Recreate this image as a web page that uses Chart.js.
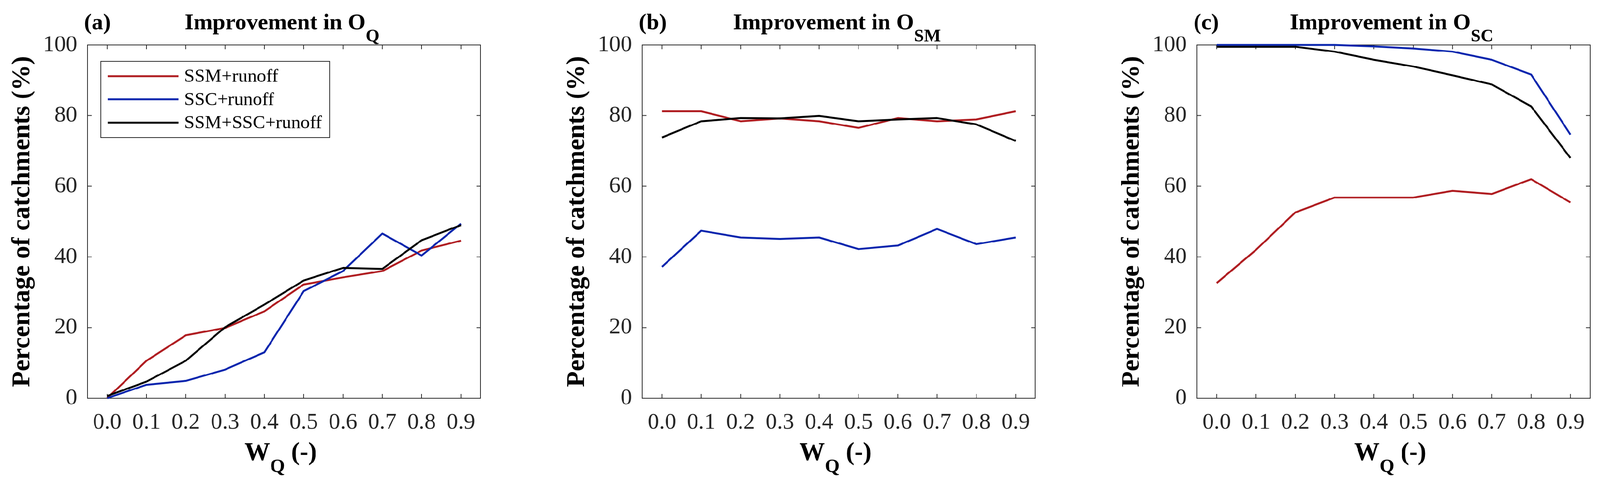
<!DOCTYPE html>
<html>
<head>
<meta charset="utf-8">
<title>Improvement in objectives</title>
<script src="https://cdn.jsdelivr.net/npm/chart.js@4.4.1/dist/chart.umd.min.js"></script>
<style>
  html, body { margin: 0; padding: 0; background: #fff; overflow: hidden; }
  #wrap { position: relative; width: 4205px; height: 1287px; overflow: hidden; transform-origin: 0 0; }
  #wrap canvas { position: absolute; top: 0; }
</style>
</head>
<body>
<div id="wrap">
  <canvas id="pa" width="1458" height="1287" style="left:0px;width:1458px;height:1287px"></canvas>
  <canvas id="pb" width="1458" height="1287" style="left:1458px;width:1458px;height:1287px"></canvas>
  <canvas id="pc" width="1289" height="1287" style="left:2916px;width:1289px;height:1287px"></canvas>
</div>
<script>
// x values (W_Q)
var wq = [0.0, 0.1, 0.2, 0.3, 0.4, 0.5, 0.6, 0.7, 0.8, 0.9];
var yTicks = [0, 20, 40, 60, 80, 100];

var seriesNames = ["SSM+runoff", "SSC+runoff", "SSM+SSC+runoff"];
var seriesColors = ["#B01E22", "#0A26AE", "#000000"];

// (a) improvement in O_Q
var ssmQ  = [0.0, 10.6, 17.8, 19.9, 24.6, 32.2, 34.2, 36.0, 41.8, 44.6];
var sscQ  = [0.0, 3.8, 4.9, 8.1, 13.0, 30.3, 36.0, 46.6, 40.4, 49.4];
var bothQ = [0.6, 4.7, 10.6, 20.1, 26.5, 33.3, 36.9, 36.6, 44.7, 49.0];

// (b) improvement in O_SM
var ssmSM  = [81.2, 81.2, 78.4, 79.2, 78.4, 76.5, 79.3, 78.4, 78.9, 81.2];
var sscSM  = [37.2, 47.4, 45.5, 45.1, 45.5, 42.2, 43.2, 47.9, 43.6, 45.5];
var bothSM = [73.8, 78.4, 79.3, 79.2, 79.9, 78.4, 78.9, 79.3, 77.5, 72.8];

// (c) improvement in O_SC
var ssmSC  = [32.6, 42.0, 52.6, 56.8, 56.8, 56.8, 58.7, 57.8, 62.0, 55.4];
var sscSC  = [100.0, 100.0, 100.0, 100.0, 99.6, 99.0, 98.1, 95.8, 91.6, 74.6];
var bothSC = [99.5, 99.5, 99.5, 98.1, 95.8, 93.9, 91.4, 88.8, 82.6, 68.0];

var FONT = "'Liberation Serif', 'Times New Roman', serif";
var AXIS = "#262626";

// fit the 4205x1287 layout into whatever the viewport really is
var fit = Math.min(window.innerWidth / 4205, window.innerHeight / 1287);
if (fit > 0 && Math.abs(fit - 1) > 0.001) {
  document.getElementById("wrap").style.transform = "scale(" + fit + ")";
}

function pts(vals) {
  return wq.map(function (x, i) { return { x: x, y: vals[i] }; });
}

// text with a lowered, smaller subscript part, centred on cx
function subText(ctx, parts, cx, baseline) {
  var total = 0;
  parts.forEach(function (p) {
    ctx.font = "bold " + p.size + "px " + FONT;
    p.w = ctx.measureText(p.t).width;
    total += p.w;
  });
  var x = cx - total / 2;
  ctx.textAlign = "left";
  ctx.textBaseline = "alphabetic";
  parts.forEach(function (p) {
    ctx.font = "bold " + p.size + "px " + FONT;
    ctx.fillText(p.t, x, baseline + (p.dy || 0));
    x += p.w;
  });
}

function makeChart(id, tag, sub, vals, showLegend) {
  // box round the axes with inward ticks on all four sides
  var frame = {
    id: "frame",
    beforeDatasetsDraw: function (chart) {
      var ctx = chart.ctx, ca = chart.chartArea;
      var xs = chart.scales.x, ys = chart.scales.y;
      var tl = 11;
      ctx.save();
      ctx.strokeStyle = AXIS;
      ctx.lineWidth = 2;
      ctx.strokeRect(ca.left, ca.top, ca.right - ca.left, ca.bottom - ca.top);
      ctx.beginPath();
      xs.ticks.forEach(function (t) {
        var px = xs.getPixelForValue(t.value);
        ctx.moveTo(px, ca.bottom); ctx.lineTo(px, ca.bottom - tl);
        ctx.moveTo(px, ca.top); ctx.lineTo(px, ca.top + tl);
      });
      ys.ticks.forEach(function (t) {
        var py = ys.getPixelForValue(t.value);
        ctx.moveTo(ca.left, py); ctx.lineTo(ca.left + tl, py);
        ctx.moveTo(ca.right, py); ctx.lineTo(ca.right - tl, py);
      });
      ctx.stroke();
      ctx.restore();
    }
  };

  var texts = {
    id: "texts",
    afterDraw: function (chart) {
      var ctx = chart.ctx, ca = chart.chartArea;
      var cx = (ca.left + ca.right) / 2;
      ctx.save();
      ctx.fillStyle = "#000";
      // panel tag
      ctx.font = "bold 60px " + FONT;
      ctx.textAlign = "left";
      ctx.textBaseline = "alphabetic";
      ctx.fillText(tag, ca.left - 9, ca.top - 41);
      // title
      subText(ctx, [
        { t: "Improvement in O", size: 60 },
        { t: sub, size: 47, dy: 32 }
      ], cx - 5, ca.top - 41);
      // x axis title
      subText(ctx, [
        { t: "W", size: 67 },
        { t: "Q", size: 50, dy: 32 },
        { t: " (-)", size: 67 }
      ], cx - 9, ca.bottom + 162);

      if (showLegend) {
        var bx = ca.left + 35, by = ca.top + 43, bw = 601, bh = 200;
        ctx.fillStyle = "#fff";
        ctx.fillRect(bx, by, bw, bh);
        ctx.strokeStyle = AXIS;
        ctx.lineWidth = 2;
        ctx.strokeRect(bx, by, bw, bh);
        ctx.font = "49px " + FONT;
        ctx.textBaseline = "middle";
        chart.data.datasets.forEach(function (ds, i) {
          var ry = by + 39 + i * 61;
          ctx.strokeStyle = ds.borderColor;
          ctx.lineWidth = 5;
          ctx.beginPath();
          ctx.moveTo(bx + 18, ry);
          ctx.lineTo(bx + 204, ry);
          ctx.stroke();
          ctx.fillStyle = "#000";
          ctx.fillText(ds.label, bx + 219, ry + 2);
        });
      }
      ctx.restore();
    }
  };

  var canvas = document.getElementById(id);
  var rightPad = canvas.width - 1263;

  return new Chart(canvas, {
    type: "line",
    data: {
      datasets: vals.map(function (v, i) {
        return {
          label: seriesNames[i],
          data: pts(v),
          borderColor: seriesColors[i],
          backgroundColor: seriesColors[i],
          borderWidth: 5,
          pointRadius: 0,
          tension: 0,
          fill: false,
          clip: false,
          borderJoinStyle: "round",
          order: 2 - i
        };
      })
    },
    options: {
      responsive: false,
      devicePixelRatio: 1,
      animation: false,
      events: [],
      layout: { padding: { left: 0, right: rightPad, top: 118, bottom: 0 } },
      plugins: {
        legend: { display: false },
        tooltip: { enabled: false },
        title: { display: false }
      },
      scales: {
        x: {
          type: "linear",
          min: -0.05,
          max: 0.95,
          afterBuildTicks: function (s) {
            s.ticks = wq.map(function (v) { return { value: v }; });
          },
          afterFit: function (s) { s.height = 241; },
          ticks: {
            color: AXIS,
            padding: 28,
            maxRotation: 0,
            autoSkip: false,
            font: { family: FONT, size: 60 },
            callback: function (v) { return Number(v).toFixed(1); }
          },
          grid: { display: false, drawTicks: false },
          border: { display: false },
          title: { display: false }
        },
        y: {
          min: 0,
          max: 100,
          afterBuildTicks: function (s) {
            s.ticks = yTicks.map(function (v) { return { value: v }; });
          },
          afterFit: function (s) { s.width = 230; },
          ticks: {
            color: AXIS,
            padding: 27,
            font: { family: FONT, size: 60 }
          },
          grid: { display: false, drawTicks: false },
          border: { display: false },
          title: {
            display: true,
            text: "Percentage of catchments (%)",
            color: "#000",
            padding: { top: 19, bottom: 0 },
            font: { family: FONT, size: 68, weight: "bold" }
          }
        }
      }
    },
    plugins: [frame, texts]
  });
}

makeChart("pa", "(a)", "Q", [ssmQ, sscQ, bothQ], true);
makeChart("pb", "(b)", "SM", [ssmSM, sscSM, bothSM], false);
makeChart("pc", "(c)", "SC", [ssmSC, sscSC, bothSC], false);
</script>
</body>
</html>
